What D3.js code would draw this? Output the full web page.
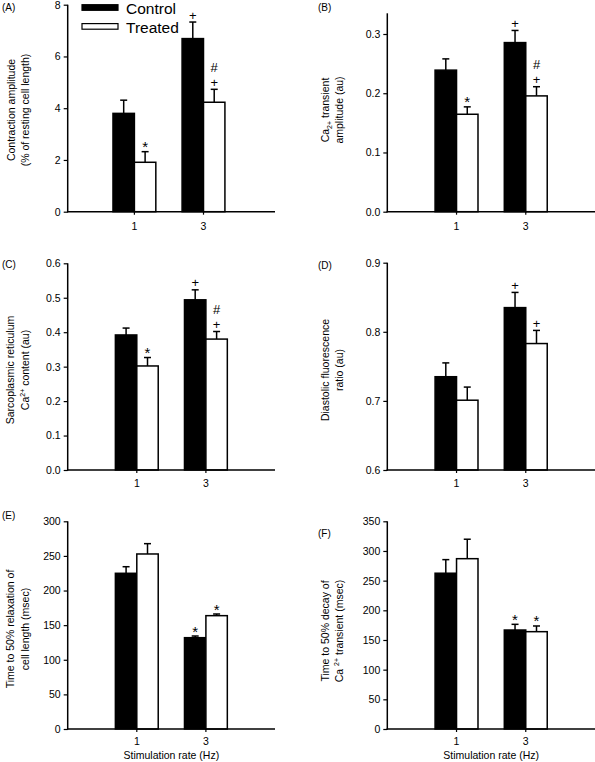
<!DOCTYPE html>
<html><head><meta charset="utf-8">
<script src="https://cdn.jsdelivr.net/npm/d3@7"></script>
<style>
html,body{margin:0;padding:0;background:#fff;}
text{font-family:"Liberation Sans",Arial,Helvetica,sans-serif;fill:#000;}
</style></head>
<body><svg id="c" width="595" height="762"></svg>
<script>
// ---------- data ----------
const rates = ["1", "3"];
const seriesNames = ["Control", "Treated"];

const aControl = [3.80, 6.69], aControlErr = [0.51, 0.64];
const aTreated = [1.91, 4.23], aTreatedErr = [0.41, 0.50];
const aTicks = [0, 2, 4, 6, 8];
const aMarksControl = ["", "+"], aMarksTreated = ["*", "#|+"];

const bControl = [0.239, 0.2855], bControlErr = [0.019, 0.0205];
const bTreated = [0.1645, 0.1955], bTreatedErr = [0.0125, 0.0155];
const bTicks = [0.0, 0.1, 0.2, 0.3];
const bMarksControl = ["", "+"], bMarksTreated = ["*", "#|+"];

const cControl = [0.392, 0.494], cControlErr = [0.020, 0.029];
const cTreated = [0.302, 0.380], cTreatedErr = [0.0245, 0.022];
const cTicks = [0.0, 0.1, 0.2, 0.3, 0.4, 0.5, 0.6];
const cMarksControl = ["", "+"], cMarksTreated = ["*", "#|+"];

const dControl = [0.735, 0.835], dControlErr = [0.020, 0.022];
const dTreated = [0.701, 0.783], dTreatedErr = [0.019, 0.019];
const dTicks = [0.6, 0.7, 0.8, 0.9];
const dMarksControl = ["", "+"], dMarksTreated = ["", "+"];

const eControl = [224.9, 131.9], eControlErr = [9.5, 2.4];
const eTreated = [252.8, 163.7], eTreatedErr = [14.9, 2.4];
const eTicks = [0, 50, 100, 150, 200, 250, 300];
const eMarksControl = ["", "*"], eMarksTreated = ["", "*"];

const fControl = [262.5, 166.8], fControlErr = [22.9, 9.6];
const fTreated = [287.0, 164.0], fTreatedErr = [32.8, 9.6];
const fTicks = [0, 50, 100, 150, 200, 250, 300, 350];
const fMarksControl = ["", "*"], fMarksTreated = ["", "*"];

// ---------- layout ----------
const svg = d3.select("#c");
const panels = [
  {lab:"(A)", lx:2, ly:11, ax:67.7, ar:275, xr:[65.3,272.6], y0:211.7, y1:4.7, top:4.7, dom:[0,8], ticks:aTicks, fmt:d3.format("d"),
   ctrl:aControl, ce:aControlErr, trt:aTreated, te:aTreatedErr, mc:aMarksControl, mt:aMarksTreated,
   ylab:[["Contraction amplitude"],["(% of resting cell length)"]], ylx:[14.5,28.5], yly:110, xt:230, legend:true},
  {lab:"(B)", lx:318, ly:11, ax:387.3, ar:595, xr:[387.3,595], y0:211.7, y1:34, top:13.3, dom:[0,0.3], ticks:bTicks, fmt:d3.format(".1f"),
   ctrl:bControl, ce:bControlErr, trt:bTreated, te:bTreatedErr, mc:bMarksControl, mt:bMarksTreated,
   ylab:[["Ca",["2+","sub"]," transient"],["amplitude (au)"]], ylx:[328.5,343], yly:110, xt:230},
  {lab:"(C)", lx:2, ly:268, ax:67.7, ar:275, xr:[67.7,275], y0:470, y1:263.3, top:263.3, dom:[0,0.6], ticks:cTicks, fmt:d3.format(".1f"),
   ctrl:cControl, ce:cControlErr, trt:cTreated, te:cTreatedErr, mc:cMarksControl, mt:cMarksTreated,
   ylab:[["Sarcoplasmic reticulum"],["Ca",["2+","sup"]," content (au)"]], ylx:[13.5,28.5], yly:370, xt:487},
  {lab:"(D)", lx:318, ly:269, ax:387.3, ar:595, xr:[387.3,595], y0:470, y1:262.7, top:262.7, dom:[0.6,0.9], ticks:dTicks, fmt:d3.format(".1f"),
   ctrl:dControl, ce:dControlErr, trt:dTreated, te:dTreatedErr, mc:dMarksControl, mt:dMarksTreated,
   ylab:[["Diastolic fluorescence"],["ratio (au)"]], ylx:[328.5,343], yly:370, xt:487},
  {lab:"(E)", lx:2, ly:519, ax:67.7, ar:275, xr:[67.7,275], y0:729, y1:521.3, top:521.3, dom:[0,300], ticks:eTicks, fmt:d3.format("d"),
   ctrl:eControl, ce:eControlErr, trt:eTreated, te:eTreatedErr, mc:eMarksControl, mt:eMarksTreated,
   ylab:[["Time to 50% relaxation of"],["cell length (msec)"]], ylx:[13.5,28.5], yly:629, xt:744.5, xtitle:true},
  {lab:"(F)", lx:318, ly:537, ax:387.3, ar:595, xr:[387.3,595], y0:729, y1:521.3, top:521.3, dom:[0,350], ticks:fTicks, fmt:d3.format("d"),
   ctrl:fControl, ce:fControlErr, trt:fTreated, te:fTreatedErr, mc:fMarksControl, mt:fMarksTreated,
   ylab:[["Time to 50% decay of"],["Ca ",["2+","sup"]," transient (msec)"]], ylx:[328.5,343], yly:631, xt:744.5, xtitle:true}
];

panels.forEach(p => {
  const g = svg.append("g");
  const x = d3.scaleLinear().domain([0, 3]).range(p.xr);
  const y = d3.scaleLinear().domain(p.dom).range([p.y0, p.y1]);
  const bw = (x(1) - x(0)) * 0.31;

  // panel label
  g.append("text").attr("x", p.lx).attr("y", p.ly).attr("font-size", 10).attr("fill", "#222").text(p.lab);

  // y axis
  const yAxis = d3.axisLeft(y).tickValues(p.ticks).tickFormat(p.fmt).tickSize(4).tickPadding(3);
  const ya = g.append("g").attr("transform", `translate(${p.ax},0)`).call(yAxis);
  ya.select(".domain").remove();
  ya.selectAll("line").attr("stroke", "#000").attr("stroke-width", 1.2);
  ya.selectAll("text").attr("font-size", 10.5).attr("font-family", "Liberation Sans, Arial, sans-serif").attr("fill", "#222");
  g.append("line").attr("x1", p.ax).attr("x2", p.ax).attr("y1", p.top).attr("y2", p.y0 + 0.6)
    .attr("stroke", "#000").attr("stroke-width", 1.5);

  // bars
  rates.forEach((r, i) => {
    const cx = x(i + 1);
    const groups = [
      {v: p.ctrl[i], e: p.ce[i], fill: "#000", x0: cx - bw, mark: p.mc[i]},
      {v: p.trt[i], e: p.te[i], fill: "#fff", x0: cx, mark: p.mt[i]}
    ];
    groups.forEach(s => {
      const mid = s.x0 + bw / 2;
      g.append("line").attr("x1", mid).attr("x2", mid).attr("y1", y(s.v)).attr("y2", y(s.v + s.e))
        .attr("stroke", "#000").attr("stroke-width", 1.5);
      g.append("line").attr("x1", mid - 3.5).attr("x2", mid + 3.5).attr("y1", y(s.v + s.e)).attr("y2", y(s.v + s.e))
        .attr("stroke", "#000").attr("stroke-width", 1.5);
      g.append("rect").attr("x", s.x0).attr("y", y(s.v)).attr("width", bw).attr("height", y(p.dom[0]) - y(s.v))
        .attr("fill", s.fill).attr("stroke", "#000").attr("stroke-width", 1.5);
      if (s.mark) {
        const parts = s.mark.split("|").reverse();
        parts.forEach((m, k) => {
          const isStar = m === "*";
          const yy = y(s.v + s.e) - 2.5 - k * 15 + (isStar ? 3 : 0);
          g.append("text").attr("x", mid).attr("y", yy).attr("text-anchor", "middle")
            .attr("font-size", isStar ? 15 : 13).text(m);
        });
      }
    });
  });

  // x axis
  g.append("line").attr("x1", p.ax - 0.7).attr("x2", p.ar).attr("y1", p.y0).attr("y2", p.y0)
    .attr("stroke", "#000").attr("stroke-width", 1.5);
  rates.forEach((r, i) => {
    g.append("line").attr("x1", x(i + 1)).attr("x2", x(i + 1)).attr("y1", p.y0).attr("y2", p.y0 + 3)
      .attr("stroke", "#000").attr("stroke-width", 1.2);
    g.append("text").attr("x", x(i + 1)).attr("y", p.xt).attr("text-anchor", "middle").attr("font-size", 10.5)
      .attr("fill", "#222").text(r);
  });
  if (p.xtitle) {
    g.append("text").attr("x", (x(1) + x(2)) / 2).attr("y", 759).attr("text-anchor", "middle")
      .attr("font-size", 10.5).attr("fill", "#222").text("Stimulation rate (Hz)");
  }

  // y label
  p.ylab.forEach((line, li) => {
    const t = g.append("text").attr("transform", `translate(${p.ylx[li]},${p.yly}) rotate(-90)`)
      .attr("text-anchor", "middle").attr("font-size", 10.5).attr("fill", "#222");
    let pending = 0;
    line.forEach(seg => {
      if (typeof seg === "string") {
        const ts = t.append("tspan").text(seg);
        if (pending) { ts.attr("dy", pending); pending = 0; }
      } else {
        const dy = seg[1] === "sup" ? -4 : 3;
        t.append("tspan").attr("font-size", 7).attr("dy", dy).text(seg[0]);
        pending = -dy;
      }
    });
  });

  // legend
  if (p.legend) {
    const lg = g.append("g");
    [["#000", 4.7, 13.5], ["#fff", 23.6, 33]].forEach((d, k) => {
      lg.append("rect").attr("x", 82).attr("y", d[1]).attr("width", 36).attr("height", 5.6)
        .attr("fill", d[0]).attr("stroke", "#000").attr("stroke-width", 1.2);
      lg.append("text").attr("x", 126).attr("y", d[2]).attr("font-size", 15.5).text(seriesNames[k]);
    });
  }
});
</script></body></html>
